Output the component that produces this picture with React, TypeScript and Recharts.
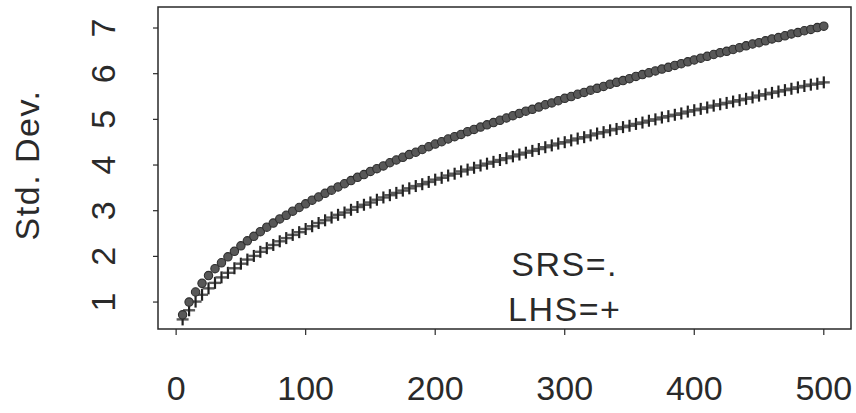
import React from 'react';
import { ScatterChart, Scatter, XAxis, YAxis, ReferenceArea, ReferenceDot, Label } from 'recharts';

const sampleSizes = [
  5, 10, 15, 20, 25, 30, 35, 40, 45, 50, 55, 60, 65, 70, 75, 80, 85, 90, 95, 100,
  105, 110, 115, 120, 125, 130, 135, 140, 145, 150, 155, 160, 165, 170, 175, 180, 185, 190, 195, 200,
  205, 210, 215, 220, 225, 230, 235, 240, 245, 250, 255, 260, 265, 270, 275, 280, 285, 290, 295, 300,
  305, 310, 315, 320, 325, 330, 335, 340, 345, 350, 355, 360, 365, 370, 375, 380, 385, 390, 395, 400,
  405, 410, 415, 420, 425, 430, 435, 440, 445, 450, 455, 460, 465, 470, 475, 480, 485, 490, 495, 500,
];

const srsStdDev = [
  0.72, 1.0, 1.22, 1.41, 1.58, 1.73, 1.86, 1.99, 2.11, 2.23, 2.34, 2.44, 2.54, 2.64, 2.73, 2.82, 2.9, 2.99, 3.07, 3.15,
  3.23, 3.3, 3.38, 3.45, 3.52, 3.59, 3.66, 3.73, 3.79, 3.86, 3.92, 3.98, 4.05, 4.11, 4.17, 4.23, 4.28, 4.34, 4.4, 4.46,
  4.51, 4.57, 4.62, 4.67, 4.73, 4.78, 4.83, 4.88, 4.93, 4.98, 5.03, 5.08, 5.13, 5.18, 5.22, 5.27, 5.32, 5.36, 5.41, 5.46,
  5.5, 5.55, 5.59, 5.64, 5.68, 5.72, 5.77, 5.81, 5.85, 5.89, 5.94, 5.98, 6.02, 6.06, 6.1, 6.14, 6.18, 6.22, 6.26, 6.3,
  6.34, 6.38, 6.42, 6.46, 6.49, 6.53, 6.57, 6.61, 6.65, 6.68, 6.72, 6.76, 6.79, 6.83, 6.87, 6.9, 6.94, 6.97, 7.01, 7.04,
];

const lhsStdDev = [
  0.62, 0.82, 1.01, 1.16, 1.3, 1.42, 1.54, 1.64, 1.74, 1.84, 1.93, 2.01, 2.1, 2.18, 2.25, 2.33, 2.4, 2.47, 2.53, 2.6,
  2.66, 2.73, 2.79, 2.85, 2.91, 2.96, 3.02, 3.08, 3.13, 3.18, 3.24, 3.29, 3.34, 3.39, 3.44, 3.49, 3.54, 3.58, 3.63, 3.68,
  3.72, 3.77, 3.81, 3.86, 3.9, 3.94, 3.99, 4.03, 4.07, 4.11, 4.15, 4.19, 4.23, 4.27, 4.31, 4.35, 4.39, 4.43, 4.47, 4.5,
  4.54, 4.58, 4.61, 4.65, 4.69, 4.72, 4.76, 4.79, 4.83, 4.86, 4.9, 4.93, 4.97, 5.0, 5.04, 5.07, 5.1, 5.13, 5.17, 5.2,
  5.23, 5.26, 5.3, 5.33, 5.36, 5.39, 5.42, 5.45, 5.48, 5.52, 5.55, 5.58, 5.61, 5.64, 5.67, 5.7, 5.73, 5.76, 5.78, 5.81,
];

const xTicks = [0, 100, 200, 300, 400, 500];
const yTicks = [1, 2, 3, 4, 5, 6, 7];
const xDomain = [-14, 521];
const yDomain = [0.41, 7.46];

const srsData = sampleSizes.map((n, i) => ({ x: n, y: srsStdDev[i] }));
const lhsData = sampleSizes.map((n, i) => ({ x: n, y: lhsStdDev[i] }));

const FONT = '"Liberation Sans", Arial, Helvetica, sans-serif';
const INK = '#2a2a2a';

const DotShape = (p: any) => (
  <circle cx={p.cx} cy={p.cy} r={4.2} fill="#585858" stroke="#2e2e2e" strokeWidth={1.1} />
);

const PlusShape = (p: any) => (
  <g>
    <line x1={p.cx - 6} x2={p.cx + 6} y1={p.cy} y2={p.cy} stroke="#5a5a5a" strokeWidth={2.4} />
    <line x1={p.cx} x2={p.cx} y1={p.cy - 6} y2={p.cy + 6} stroke="#222" strokeWidth={2.2} />
  </g>
);

const YTick = (p: any) => {
  const { x, y, payload } = p;
  return (
    <text
      x={x}
      y={y}
      transform={`rotate(-90 ${x} ${y})`}
      textAnchor="middle"
      dy="0.36em"
      fontSize={34}
      fontFamily={FONT}
      fill={INK}
    >
      {payload.value}
    </text>
  );
};

const XTick = (p: any) => {
  const { x, y, payload } = p;
  return (
    <text x={x} y={y} textAnchor="middle" dy="0.71em" fontSize={34} fontFamily={FONT} fill={INK}>
      {payload.value}
    </text>
  );
};

export default function App() {
  return (
    <div style={{ position: 'absolute', left: 0, top: 0, width: 856, height: 413, background: '#fff' }}>
      <ScatterChart width={856} height={413} margin={{ top: 7, right: 5, bottom: 0, left: 0 }}>
        <XAxis
          type="number"
          dataKey="x"
          domain={xDomain}
          ticks={xTicks}
          height={84}
          axisLine={false}
          tickSize={6}
          tickMargin={41}
          tickLine={{ stroke: INK, strokeWidth: 1.2 }}
          tick={<XTick />}
          interval={0}
          allowDataOverflow
        />
        <YAxis
          type="number"
          dataKey="y"
          domain={yDomain}
          ticks={yTicks}
          width={158}
          axisLine={false}
          tickSize={5}
          tickMargin={50}
          tickLine={{ stroke: INK, strokeWidth: 1.2 }}
          tick={<YTick />}
          interval={0}
          allowDataOverflow
        >
          <Label
            content={() => (
              <text
                x={27}
                y={165}
                transform="rotate(-90 27 165)"
                textAnchor="middle"
                dy="0.36em"
                fontSize={34}
                letterSpacing={1.5}
                fontFamily={FONT}
                fill={INK}
              >
                Std. Dev.
              </text>
            )}
          />
        </YAxis>
        <ReferenceArea
          x1={xDomain[0]}
          x2={xDomain[1]}
          y1={yDomain[0]}
          y2={yDomain[1]}
          fill="none"
          stroke={INK}
          strokeWidth={1.5}
          ifOverflow="visible"
        />
        <Scatter data={lhsData} shape={PlusShape} isAnimationActive={false} />
        <Scatter data={srsData} shape={DotShape} isAnimationActive={false} />
        <ReferenceDot
          x={300}
          y={1.83}
          r={0}
          fill="none"
          stroke="none"
          ifOverflow="visible"
          label={{ value: 'SRS=.', position: 'center', fontSize: 34, fill: INK, fontFamily: FONT, letterSpacing: 1.5 }}
        />
        <ReferenceDot
          x={300}
          y={0.85}
          r={0}
          fill="none"
          stroke="none"
          ifOverflow="visible"
          label={{ value: 'LHS=+', position: 'center', fontSize: 34, fill: INK, fontFamily: FONT, letterSpacing: 1.5 }}
        />
      </ScatterChart>
    </div>
  );
}
